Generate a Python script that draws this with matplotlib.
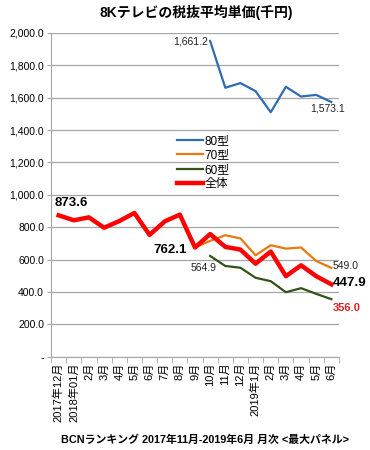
import numpy as np
import matplotlib
matplotlib.use("Agg")
import matplotlib.pyplot as plt
from matplotlib.ticker import FuncFormatter, FixedLocator

plt.rcParams['font.family'] = ['Liberation Sans', 'Noto Sans CJK JP']

months = ["2017年12月", "2018年01月", "2月", "3月", "4月", "5月", "6月", "7月", "8月",
          "9月", "10月", "11月", "12月", "2019年1月", "2月", "3月", "4月", "5月", "6月"]

nan = np.nan
s80 = [nan]*10 + [1950, 1661, 1690, 1640, 1510, 1667, 1607, 1617, 1573.1]
s70 = [nan]*9 + [675, 716, 751, 731, 627, 689, 668, 675, 592, 549.0]
s60 = [nan]*10 + [623, 561, 550, 488, 467, 399, 424, 389, 356.0]
total = [873.6, 843, 861, 797, 838, 888, 753, 836, 878, 675, 758, 679, 662, 575,
         650, 498, 565, 498, 447.9]

fig = plt.figure(figsize=(3.7, 4.5), dpi=100)
ax = fig.add_axes([0.138, 0.207, 0.778, 0.720])

x = np.arange(len(months))
ax.plot(x, s80, color="#2E6DB4", lw=1.6, label="80型")
ax.plot(x, s70, color="#E8780F", lw=1.6, label="70型")
ax.plot(x, s60, color="#33521A", lw=1.6, label="60型")
ax.plot(x, total, color="#FF0000", lw=3.2, label="全体")

ax.set_xlim(-0.5, len(months) - 0.5)
ax.set_ylim(0, 2000)
ax.set_yticks(np.arange(0, 2001, 200))
ax.yaxis.set_major_formatter(FuncFormatter(lambda v, p: "-" if v == 0 else f"{v:,.1f}"))
ax.grid(axis="y", color="#A6A6A6", lw=0.9)
ax.set_axisbelow(True)

ax.set_xticks(x)
ax.set_xticklabels(months, rotation=90, fontsize=8)
ax.xaxis.set_minor_locator(FixedLocator(np.arange(-0.5, len(months), 1)))
ax.tick_params(axis="x", which="major", length=0, pad=4)
ax.tick_params(axis="x", which="minor", length=4, color="#A6A6A6")
ax.tick_params(axis="y", length=3, color="#A6A6A6", labelsize=7.5, pad=2)

for side in ["top", "right"]:
    ax.spines[side].set_visible(False)
for side in ["left", "bottom"]:
    ax.spines[side].set_color("#A6A6A6")

# data labels
ax.text(9.86, 1944, "1,661.2", ha="right", va="center", fontsize=7.5, color="#222222")
ax.text(16.58, 1531, "1,573.1", ha="left", va="center", fontsize=7.5, color="#222222")
ax.text(-0.24, 951, "873.6", ha="left", va="center", fontsize=9.5, fontweight="bold")
ax.text(8.47, 660, "762.1", ha="right", va="center", fontsize=9.5, fontweight="bold")
ax.text(10.45, 549, "564.9", ha="right", va="center", fontsize=7.5, color="#222222")
ax.text(18.1, 562, "549.0", ha="left", va="center", fontsize=7.5, color="#222222", clip_on=False)
ax.text(18.1, 457, "447.9", ha="left", va="center", fontsize=9.5, fontweight="bold", clip_on=False)
ax.text(18.1, 302, "356.0", ha="left", va="center", fontsize=8, fontweight="bold", color="#E02020", clip_on=False)

ax.legend(loc="upper left", bbox_to_anchor=(0.41, 0.71), frameon=False, fontsize=8.5,
          handlelength=2.2, handletextpad=0.1, labelspacing=0.2, borderpad=0.2)

fig.text(0.53, 0.972, "8Kテレビの税抜平均単価(千円)", ha="center", va="center",
         fontsize=10, fontweight="bold")
fig.text(0.555, 0.022, "BCNランキング 2017年11月-2019年6月 月次 <最大パネル>",
         ha="center", va="center", fontsize=7.8, fontweight="bold")

fig.savefig("out.png", dpi=100)
